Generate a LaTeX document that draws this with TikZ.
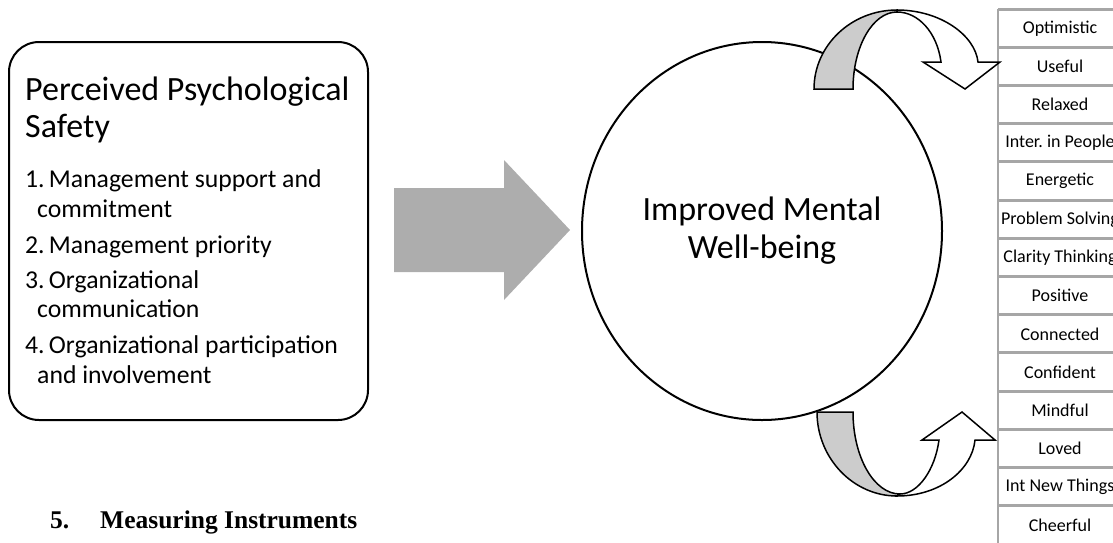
\documentclass[tikz,border=0pt]{standalone}
\usepackage{fontspec}
\setmainfont{Carlito}
\newfontfamily\timesfont{Liberation Serif}
\usetikzlibrary{shapes.geometric}
\definecolor{arrowgray}{HTML}{ADADAD}
\definecolor{bandgray}{HTML}{CCCCCC}
\definecolor{tblgray}{HTML}{A6A6A6}
\begin{document}
\frenchspacing
\begin{tikzpicture}[x=1pt,y=-1pt,
  ttl/.style={anchor=base west, inner sep=0, font=\fontsize{34}{37}\selectfont},
  itm/.style={anchor=base west, inner sep=0, font=\fontsize{25.7}{30}\selectfont},
  cell/.style={minimum width=124pt, minimum height=38.2pt, inner sep=0, font=\fontsize{18}{20}\selectfont},
  sepline/.style={draw=tblgray, line width=3pt},
  band/.style={draw=black, line width=1.5pt, line join=miter},
  hd/.style={anchor=base west, inner sep=0, font=\timesfont\bfseries\fontsize{25.5}{28}\selectfont},
]
\useasboundingbox (0,0) rectangle (1113,542);
\clip (0,0) rectangle (1113,542);

% left box
\node[draw, line width=2pt, rounded corners=30pt, minimum width=359pt, minimum height=378pt, inner sep=0] (pps) at (188.5,231) {};
\node[ttl] (t1) at (25,100) {Perceived Psychological};
\node[ttl] (t2) at (25,137) {Safety};
\node[itm] (i1a) at (25,187) {1.\,Management support and};
\node[itm] (i1b) at (37,217) {commitment};
\node[itm] (i2a) at (25,253) {2.\,Management priority};
\node[itm] (i3a) at (25,288) {3.\,Organizational};
\node[itm] (i3b) at (37,317) {communication};
\node[itm] (i4a) at (25,353) {4.\,Organizational participation};
\node[itm] (i4b) at (37,383) {and involvement};

% circle
\node[ellipse, draw, line width=2pt, minimum width=360pt, minimum height=378pt, inner sep=0,
      align=center, font=\fontsize{34}{38}\selectfont] (imw) at (762,231) {Improved Mental\\Well-being};

% big gray arrow
\fill[arrowgray] (394,188) -- (504,188) -- (504,160) -- (570,230) -- (504,300) -- (504,272) -- (394,272) -- cycle;

% table
\foreach \t [count=\i] in {Optimistic,Useful,Relaxed,Inter. in People,Energetic,Problem Solving,Clarity Thinking,Positive,Connected,Confident,Mindful,Loved,Int New Things,Cheerful}
  \node[cell] (r\i) at (1060,{28.3+38.2*(\i-1)}) {\t};
\foreach \i in {1,...,14}
  \draw[sepline] (r\i.north west) -- (r\i.north east);
\draw[tblgray, line width=1.5pt] (r1.north west) -- (r14.south west);

% top curved arrow
\filldraw[band, fill=bandgray] (814,89) .. controls (814,45.4) and (851.2,10) .. (897,10)
  -- (897,12) .. controls (872.7,12) and (853,46.5) .. (853,89) -- cycle;
\filldraw[band, fill=white] (897,10) .. controls (940,10) and (975,35) .. (978,62)
  -- (1000,62) -- (965,89) -- (923,62) -- (941,62)
  .. controls (937,32) and (918,12) .. (897,12) -- cycle;

% bottom curved arrow
\filldraw[band, fill=bandgray] (817,412) -- (853,412) .. controls (853,457) and (874,494) .. (900,494)
  -- (897,496) .. controls (853,496) and (817,458) .. (817,412) -- cycle;
\filldraw[band, fill=white] (897,496) .. controls (940,496) and (972,470) .. (975,440)
  -- (995,440) -- (962,412) -- (922,440) -- (939,440)
  .. controls (935,470) and (918,494) .. (900,494) -- cycle;

% heading
\node[hd] (h5) at (50,528) {5.};
\node[hd] (hm) at (100,528) {Measuring Instruments};
\end{tikzpicture}
\end{document}
